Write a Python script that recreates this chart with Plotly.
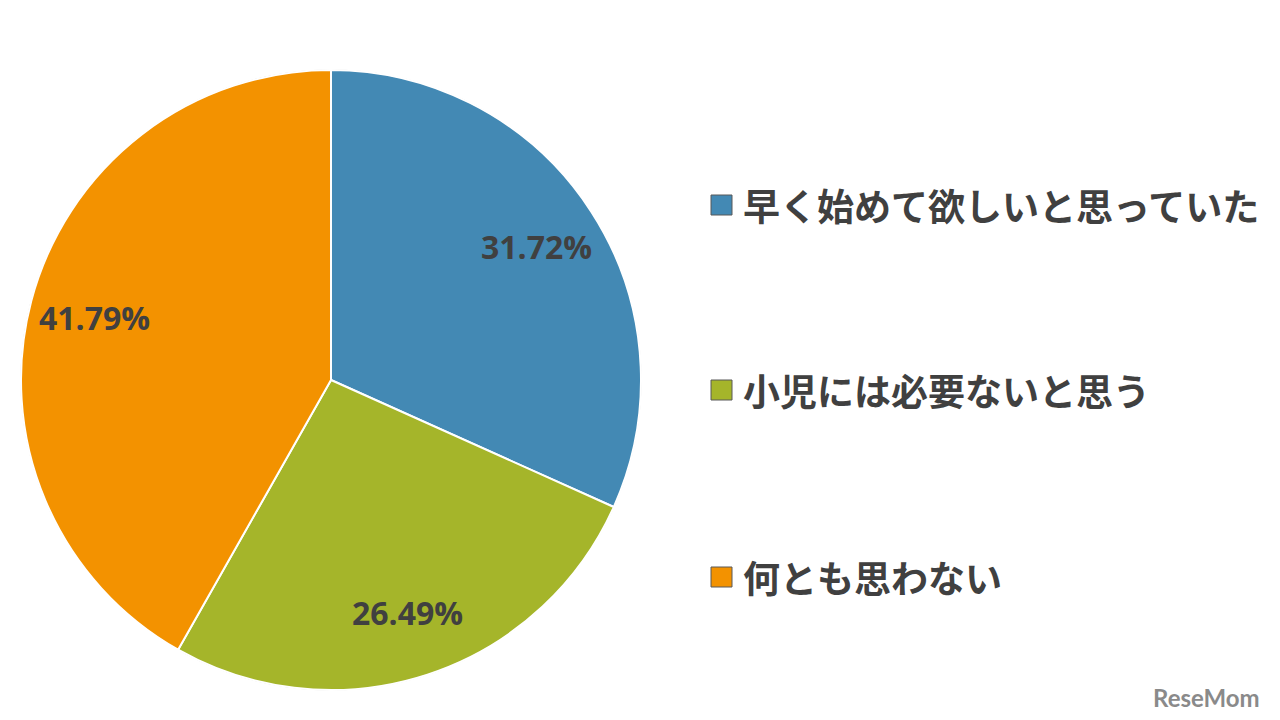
import math
import plotly.graph_objects as go

labels = ["早く始めて欲しいと思っていた", "小児には必要ないと思う", "何とも思わない"]
values = [31.72, 26.49, 41.79]
colors = ["#4389B4", "#A5B52A", "#F39200"]

W, H = 1280, 720
OFF = 8  # page body margin offset
cx, cy, R = 331 - OFF, 380 - OFF, 310


def px(x):
    return x / W


def py(y):
    return 1 - y / H


fig = go.Figure()
fig.add_trace(go.Pie(
    labels=labels, values=values, sort=False, direction="clockwise", rotation=0,
    marker=dict(colors=colors, line=dict(color="white", width=2)),
    textinfo="none", hoverinfo="label+percent", showlegend=False,
    domain=dict(x=[px(cx - R), px(cx + R)], y=[py(cy + R), py(cy - R)]),
))

shapes = []
annotations = []

# outer faint outline
shapes.append(dict(type="circle", xref="paper", yref="paper",
                   x0=px(cx - R), x1=px(cx + R), y0=py(cy + R), y1=py(cy - R),
                   line=dict(color="rgba(90,90,90,0.45)", width=1), layer="below"))

# data labels at best-fit positions along each slice's mid-angle
total = sum(values)
cum = 0
for v in values:
    mid = (cum + v / 2) / total * 2 * math.pi
    cum += v
    r = 0.79 * R
    x = cx + r * math.sin(mid)
    y = cy - r * math.cos(mid)
    annotations.append(dict(x=px(x), y=py(y), xref="paper", yref="paper",
                            text=f"{v:.2f}%", showarrow=False,
                            font=dict(family="Open Sans", size=32, color="#404040", weight="bold"),
                            xanchor="center", yanchor="middle"))

# legend
leg_y = [205 - OFF, 390 - OFF, 577 - OFF]
lx = 711 - OFF
for lab, col, ly in zip(labels, colors, leg_y):
    shapes.append(dict(type="rect", xref="paper", yref="paper",
                       x0=px(lx), x1=px(lx + 21), y0=py(ly + 10), y1=py(ly - 10),
                       fillcolor=col, line=dict(color="#595959", width=1)))
    annotations.append(dict(x=px(lx + 30), y=py(ly), xref="paper", yref="paper",
                            text=lab, showarrow=False, xanchor="left", yanchor="middle",
                            font=dict(family="Noto Sans CJK JP", size=37, color="#404040", weight="bold")))

annotations.append(dict(x=px(1262 - OFF), y=py(697 - OFF), xref="paper", yref="paper",
                        text="ReseMom", showarrow=False, xanchor="right", yanchor="middle",
                        font=dict(family="Lato", size=24, color="#8a8a8a", weight="bold")))

fig.update_layout(width=W, height=H, margin=dict(l=0, r=0, t=0, b=0),
                  paper_bgcolor="white", plot_bgcolor="white",
                  shapes=shapes, annotations=annotations)
fig.write_html("out.html")
